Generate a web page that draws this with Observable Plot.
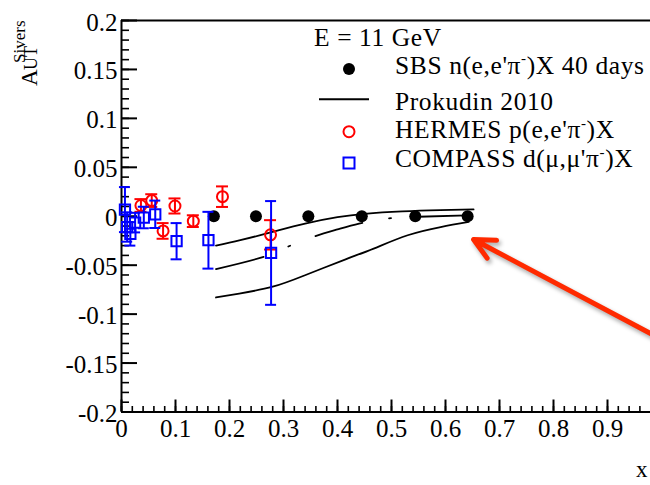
<!DOCTYPE html>
<html><head><meta charset="utf-8">
<script src="https://cdn.jsdelivr.net/npm/d3@7"></script>
<script src="https://cdn.jsdelivr.net/npm/@observablehq/plot@0.6"></script>
<style>
html,body{margin:0;padding:0;background:#fff;overflow:hidden;}
#chart{width:650px;height:485px;}
</style>
</head><body><div id="chart"></div>
<script>
// ---------------- data ----------------
const sbsX = [0.171, 0.249, 0.346, 0.445, 0.544, 0.641];
const sbsY = [0, 0, 0, 0, 0, 0];

const prokUpperX = [0.175, 0.22, 0.28, 0.34, 0.40, 0.45, 0.52, 0.59, 0.652];
const prokUpperY = [-0.030, -0.0245, -0.016, -0.0075, -0.001, 0.0025, 0.005, 0.0063, 0.007];
const prokCentralX = [0.175, 0.26, 0.3085, 0.355, 0.40, 0.44, 0.49, 0.55, 0.642];
const prokCentralY = [-0.054, -0.042, -0.031, -0.021, -0.0135, -0.0075, -0.0025, -0.0005, 0.001];
const prokLowerX = [0.175, 0.218, 0.28, 0.341, 0.415, 0.467, 0.53, 0.591, 0.643];
const prokLowerY = [-0.083, -0.079, -0.072, -0.060, -0.044, -0.033, -0.0194, -0.011, -0.0058];

const hermesX = [0.036, 0.056, 0.077, 0.099, 0.133, 0.187, 0.276];
const hermesY = [0.011, 0.016, -0.015, 0.0105, -0.005, 0.020, -0.019];
const hermesErr = [0.0065, 0.0065, 0.008, 0.0077, 0.006, 0.0105, 0.015];

const compassX = [0.0064, 0.0105, 0.0164, 0.0252, 0.0413, 0.0625, 0.102, 0.161, 0.277];
const compassY = [0.0068, -0.011, -0.018, -0.0065, -0.0013, 0.002, -0.0255, -0.0245, -0.0375];
const compassErr = [0.023, 0.015, 0.012, 0.010, 0.011, 0.014, 0.0185, 0.029, 0.053];

const arrowTailX = [1.0], arrowTailY = [-0.1257];
const arrowTipX = [0.652], arrowTipY = [-0.0238];

const xTickLabels = [0, 0.1, 0.2, 0.3, 0.4, 0.5, 0.6, 0.7, 0.8, 0.9];
const yTickLabels = [-0.2, -0.15, -0.1, -0.05, 0, 0.05, 0.1, 0.15, 0.2];
const xMinorTicks = d3.range(0, 0.98, 0.02);
const yMinorTicks = d3.range(-0.2, 0.2001, 0.01);

const legendTitle = "E = 11 GeV";
const seriesNames = ["SBS", "Prokudin 2010", "HERMES", "COMPASS"];

// ---------------- layout ----------------
const FONT = "'Liberation Serif','Times New Roman',Times,serif";
const W = 650, H = 485, mL = 121, mR = 0, mT = 20, mB = 73.5;
const plotW = W - mL - mR, plotH = H - mT - mB;
const xMax = plotW / 540;

const toRows = (xs, ys, es) => xs.map((x, i) => ({x, y: ys[i], e: es ? es[i] : 0}));
const sbs = toRows(sbsX, sbsY);
const upper = toRows(prokUpperX, prokUpperY);
const central = toRows(prokCentralX, prokCentralY);
const lower = toRows(prokLowerX, prokLowerY);
const hermes = toRows(hermesX, hermesY, hermesErr);
const compass = toRows(compassX, compassY, compassErr);
const arrows = arrowTipX.map((x, i) => ({x1: arrowTailX[i], y1: arrowTailY[i], x2: x, y2: arrowTipY[i]}));

const RED = "#ff0000", BLUE = "#0000ff";

function errorMarks(data, color, cap) {
  return [
    Plot.ruleX(data, {x: "x", y1: d => d.y - d.e, y2: d => d.y + d.e, stroke: color, strokeWidth: 2}),
    Plot.ruleY(data, {y: d => d.y + d.e, x1: "x", x2: "x", insetLeft: -cap, insetRight: -cap, stroke: color, strokeWidth: 2}),
    Plot.ruleY(data, {y: d => d.y - d.e, x1: "x", x2: "x", insetLeft: -cap, insetRight: -cap, stroke: color, strokeWidth: 2})
  ];
}

const chart = Plot.plot({
  width: W, height: H,
  marginLeft: mL, marginRight: mR, marginTop: mT, marginBottom: mB,
  style: {fontFamily: FONT, fontSize: "25px", color: "black", background: "white"},
  x: {domain: [0, xMax]},
  y: {domain: [-0.2, 0.2]},
  marks: [
    // minor & major ticks (inward)
    Plot.tickX(xMinorTicks, {x: d => d, insetTop: plotH - 5.5, stroke: "black", strokeWidth: 1.6}),
    Plot.tickX(xTickLabels, {x: d => d, insetTop: plotH - 12, stroke: "black", strokeWidth: 2}),
    Plot.tickY(yMinorTicks, {y: d => d, insetRight: plotW - 8, stroke: "black", strokeWidth: 1.6}),
    Plot.tickY(yTickLabels, {y: d => d, insetRight: plotW - 16, stroke: "black", strokeWidth: 2}),
    Plot.ruleY([0.2], {stroke: "black", strokeWidth: 2}),
    Plot.ruleY([-0.2], {stroke: "black", strokeWidth: 2}),
    Plot.ruleX([0], {stroke: "black", strokeWidth: 2}),
    Plot.axisX({ticks: xTickLabels, tickSize: 0, tickPadding: 7, tickFormat: d => String(d), fontSize: 25, fill: "black"}),
    Plot.axisY({ticks: yTickLabels, tickSize: 0, tickPadding: 4, dy: 2, tickFormat: d => String(d), fontSize: 25, fill: "black", label: null}),
    // Prokudin curves
    Plot.line(upper, {x: "x", y: "y", curve: "natural", stroke: "black", strokeWidth: 1.8}),
    Plot.line(lower, {x: "x", y: "y", curve: "natural", stroke: "black", strokeWidth: 1.8}),
    Plot.line(central, {x: "x", y: "y", curve: "natural", stroke: "black", strokeWidth: 1.8, strokeDasharray: "49,27,2,27"}),
    // SBS
    Plot.dot(sbs, {x: "x", y: "y", r: 6, fill: "black", stroke: "none"}),
    // HERMES
    ...errorMarks(hermes, RED, 6),
    Plot.dot(hermes, {x: "x", y: "y", r: 5.5, stroke: RED, strokeWidth: 2, fill: "none"}),
    // COMPASS
    ...errorMarks(compass, BLUE, 5.5),
    Plot.dot(compass, {x: "x", y: "y", r: 5.8, symbol: "square", stroke: BLUE, strokeWidth: 2, fill: "none"}),
    // arrow
    Plot.arrow(arrows, {x1: "x1", y1: "y1", x2: "x2", y2: "y2", stroke: "#ff2a00", strokeWidth: 5, headLength: 6.9, headAngle: 52, clip: true})
  ]
});
document.getElementById("chart").appendChild(chart);

const svg = d3.select(chart);
svg.selectAll('g[aria-label="arrow"]').style("filter", "drop-shadow(2px 3px 2px rgba(0,0,0,0.35))");

// axis titles
const ty = svg.append("g").attr("font-family", FONT).attr("fill", "black").attr("text-anchor", "start")
  .attr("transform", "translate(37,86) rotate(-90)");
ty.append("text").attr("x", 0).attr("y", 0).attr("font-size", 23).text("A");
ty.append("text").attr("x", 16).attr("y", 0).attr("font-size", 18).text("UT");
ty.append("text").attr("x", 23).attr("y", -12.5).attr("font-size", 17).text("Sivers");
svg.append("text").attr("x", 636).attr("y", 477).attr("text-anchor", "start").attr("font-family", FONT)
  .attr("font-size", 23).attr("fill", "black").text("x");

// legend
const LFS = 25.5;
const lg = svg.append("g").attr("font-family", FONT).attr("font-size", LFS).attr("letter-spacing", 0.6)
  .attr("fill", "black").attr("text-anchor", "start");
lg.append("text").attr("x", 314).attr("y", 46).text(legendTitle);
lg.append("circle").attr("cx", 349).attr("cy", 69).attr("r", 6).attr("fill", "black");
function piText(y, pre, post) {
  const t = lg.append("text").attr("x", 395).attr("y", y);
  t.append("tspan").text(pre);
  t.append("tspan").attr("dy", -10.5).attr("font-size", 15).text("-");
  t.append("tspan").attr("dy", 10.5).text(post);
}
piText(73.5, seriesNames[0] + " n(e,e'\u03C0", ")X 40 days");
lg.append("line").attr("x1", 319).attr("x2", 369).attr("y1", 99.3).attr("y2", 99.3).attr("stroke", "black").attr("stroke-width", 2);
lg.append("text").attr("x", 395).attr("y", 110).text(seriesNames[1]);
lg.append("circle").attr("cx", 349).attr("cy", 131.7).attr("r", 5.5).attr("fill", "none").attr("stroke", RED).attr("stroke-width", 2);
piText(138.3, seriesNames[2] + " p(e,e'\u03C0", ")X");
lg.append("rect").attr("x", 343.5).attr("y", 157.5).attr("width", 11).attr("height", 11).attr("fill", "none").attr("stroke", BLUE).attr("stroke-width", 2);
piText(167, seriesNames[3] + " d(\u03BC,\u03BC'\u03C0", ")X");
</script>
</body></html>
